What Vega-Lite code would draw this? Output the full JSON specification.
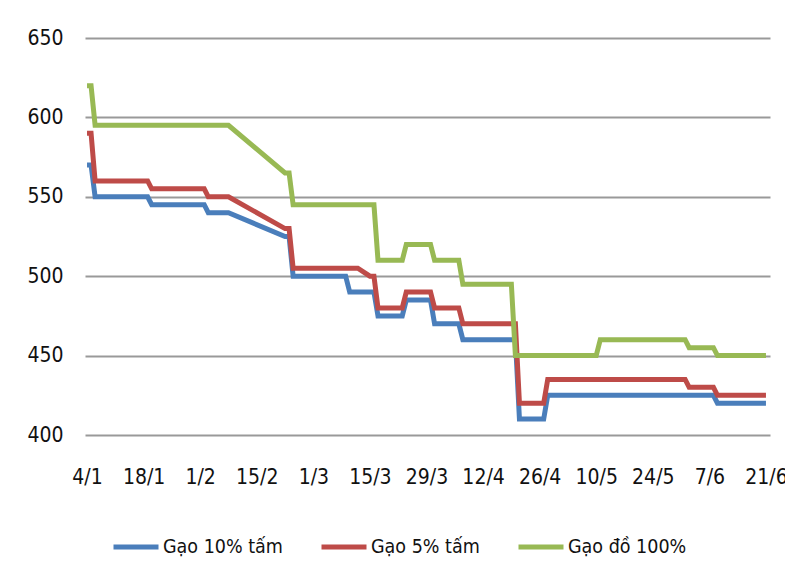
{
  "$schema": "https://vega.github.io/schema/vega-lite/v6.json",
  "width": 685,
  "height": 397,
  "autosize": {"type": "none"},
  "padding": {"left": 85, "top": 38, "right": 15, "bottom": 148},
  "background": "white",
  "config": {"view": {"stroke": null}, "font": "DejaVu Sans Condensed, Liberation Sans, sans-serif"},
  "data": {"values": [
    {"date": "2010-01-04", "series": "Gạo 10% tấm", "price": 570},
    {"date": "2010-01-05", "series": "Gạo 10% tấm", "price": 570},
    {"date": "2010-01-06", "series": "Gạo 10% tấm", "price": 550},
    {"date": "2010-01-19", "series": "Gạo 10% tấm", "price": 550},
    {"date": "2010-01-20", "series": "Gạo 10% tấm", "price": 545},
    {"date": "2010-02-02", "series": "Gạo 10% tấm", "price": 545},
    {"date": "2010-02-03", "series": "Gạo 10% tấm", "price": 540},
    {"date": "2010-02-08", "series": "Gạo 10% tấm", "price": 540},
    {"date": "2010-02-22", "series": "Gạo 10% tấm", "price": 525},
    {"date": "2010-02-23", "series": "Gạo 10% tấm", "price": 525},
    {"date": "2010-02-24", "series": "Gạo 10% tấm", "price": 500},
    {"date": "2010-03-09", "series": "Gạo 10% tấm", "price": 500},
    {"date": "2010-03-10", "series": "Gạo 10% tấm", "price": 490},
    {"date": "2010-03-16", "series": "Gạo 10% tấm", "price": 490},
    {"date": "2010-03-17", "series": "Gạo 10% tấm", "price": 475},
    {"date": "2010-03-23", "series": "Gạo 10% tấm", "price": 475},
    {"date": "2010-03-24", "series": "Gạo 10% tấm", "price": 485},
    {"date": "2010-03-30", "series": "Gạo 10% tấm", "price": 485},
    {"date": "2010-03-31", "series": "Gạo 10% tấm", "price": 470},
    {"date": "2010-04-06", "series": "Gạo 10% tấm", "price": 470},
    {"date": "2010-04-07", "series": "Gạo 10% tấm", "price": 460},
    {"date": "2010-04-20", "series": "Gạo 10% tấm", "price": 460},
    {"date": "2010-04-21", "series": "Gạo 10% tấm", "price": 410},
    {"date": "2010-04-27", "series": "Gạo 10% tấm", "price": 410},
    {"date": "2010-04-28", "series": "Gạo 10% tấm", "price": 425},
    {"date": "2010-06-08", "series": "Gạo 10% tấm", "price": 425},
    {"date": "2010-06-09", "series": "Gạo 10% tấm", "price": 420},
    {"date": "2010-06-21", "series": "Gạo 10% tấm", "price": 420},
    {"date": "2010-01-04", "series": "Gạo 5% tấm", "price": 590},
    {"date": "2010-01-05", "series": "Gạo 5% tấm", "price": 590},
    {"date": "2010-01-06", "series": "Gạo 5% tấm", "price": 560},
    {"date": "2010-01-19", "series": "Gạo 5% tấm", "price": 560},
    {"date": "2010-01-20", "series": "Gạo 5% tấm", "price": 555},
    {"date": "2010-02-02", "series": "Gạo 5% tấm", "price": 555},
    {"date": "2010-02-03", "series": "Gạo 5% tấm", "price": 550},
    {"date": "2010-02-08", "series": "Gạo 5% tấm", "price": 550},
    {"date": "2010-02-22", "series": "Gạo 5% tấm", "price": 530},
    {"date": "2010-02-23", "series": "Gạo 5% tấm", "price": 530},
    {"date": "2010-02-24", "series": "Gạo 5% tấm", "price": 505},
    {"date": "2010-03-12", "series": "Gạo 5% tấm", "price": 505},
    {"date": "2010-03-15", "series": "Gạo 5% tấm", "price": 500},
    {"date": "2010-03-16", "series": "Gạo 5% tấm", "price": 500},
    {"date": "2010-03-17", "series": "Gạo 5% tấm", "price": 480},
    {"date": "2010-03-23", "series": "Gạo 5% tấm", "price": 480},
    {"date": "2010-03-24", "series": "Gạo 5% tấm", "price": 490},
    {"date": "2010-03-30", "series": "Gạo 5% tấm", "price": 490},
    {"date": "2010-03-31", "series": "Gạo 5% tấm", "price": 480},
    {"date": "2010-04-06", "series": "Gạo 5% tấm", "price": 480},
    {"date": "2010-04-07", "series": "Gạo 5% tấm", "price": 470},
    {"date": "2010-04-20", "series": "Gạo 5% tấm", "price": 470},
    {"date": "2010-04-21", "series": "Gạo 5% tấm", "price": 420},
    {"date": "2010-04-27", "series": "Gạo 5% tấm", "price": 420},
    {"date": "2010-04-28", "series": "Gạo 5% tấm", "price": 435},
    {"date": "2010-06-01", "series": "Gạo 5% tấm", "price": 435},
    {"date": "2010-06-02", "series": "Gạo 5% tấm", "price": 430},
    {"date": "2010-06-08", "series": "Gạo 5% tấm", "price": 430},
    {"date": "2010-06-09", "series": "Gạo 5% tấm", "price": 425},
    {"date": "2010-06-21", "series": "Gạo 5% tấm", "price": 425},
    {"date": "2010-01-04", "series": "Gạo đồ 100%", "price": 620},
    {"date": "2010-01-05", "series": "Gạo đồ 100%", "price": 620},
    {"date": "2010-01-06", "series": "Gạo đồ 100%", "price": 595},
    {"date": "2010-02-08", "series": "Gạo đồ 100%", "price": 595},
    {"date": "2010-02-22", "series": "Gạo đồ 100%", "price": 565},
    {"date": "2010-02-23", "series": "Gạo đồ 100%", "price": 565},
    {"date": "2010-02-24", "series": "Gạo đồ 100%", "price": 545},
    {"date": "2010-03-16", "series": "Gạo đồ 100%", "price": 545},
    {"date": "2010-03-17", "series": "Gạo đồ 100%", "price": 510},
    {"date": "2010-03-23", "series": "Gạo đồ 100%", "price": 510},
    {"date": "2010-03-24", "series": "Gạo đồ 100%", "price": 520},
    {"date": "2010-03-30", "series": "Gạo đồ 100%", "price": 520},
    {"date": "2010-03-31", "series": "Gạo đồ 100%", "price": 510},
    {"date": "2010-04-06", "series": "Gạo đồ 100%", "price": 510},
    {"date": "2010-04-07", "series": "Gạo đồ 100%", "price": 495},
    {"date": "2010-04-19", "series": "Gạo đồ 100%", "price": 495},
    {"date": "2010-04-20", "series": "Gạo đồ 100%", "price": 450},
    {"date": "2010-05-10", "series": "Gạo đồ 100%", "price": 450},
    {"date": "2010-05-11", "series": "Gạo đồ 100%", "price": 460},
    {"date": "2010-06-01", "series": "Gạo đồ 100%", "price": 460},
    {"date": "2010-06-02", "series": "Gạo đồ 100%", "price": 455},
    {"date": "2010-06-08", "series": "Gạo đồ 100%", "price": 455},
    {"date": "2010-06-09", "series": "Gạo đồ 100%", "price": 450},
    {"date": "2010-06-21", "series": "Gạo đồ 100%", "price": 450}
  ]},
  "mark": {"type": "line", "strokeWidth": 5},
  "encoding": {
    "x": {
      "field": "date", "type": "temporal",
      "scale": {"type": "utc", "domain": [
        {"year": 2010, "month": 1, "date": 3, "hours": 12, "utc": true},
        {"year": 2010, "month": 6, "date": 22, "hours": 0, "utc": true}
      ]},
      "axis": {
        "title": null,
        "labelExpr": "utcFormat(datum.value, '%-d/%-m')",
        "values": [
          {"year": 2010, "month": 1, "date": 4, "utc": true},
          {"year": 2010, "month": 1, "date": 18, "utc": true},
          {"year": 2010, "month": 2, "date": 1, "utc": true},
          {"year": 2010, "month": 2, "date": 15, "utc": true},
          {"year": 2010, "month": 3, "date": 1, "utc": true},
          {"year": 2010, "month": 3, "date": 15, "utc": true},
          {"year": 2010, "month": 3, "date": 29, "utc": true},
          {"year": 2010, "month": 4, "date": 12, "utc": true},
          {"year": 2010, "month": 4, "date": 26, "utc": true},
          {"year": 2010, "month": 5, "date": 10, "utc": true},
          {"year": 2010, "month": 5, "date": 24, "utc": true},
          {"year": 2010, "month": 6, "date": 7, "utc": true},
          {"year": 2010, "month": 6, "date": 21, "utc": true}
        ],
        "grid": false, "domain": false, "ticks": false, "tickSize": 0,
        "labelPadding": 31, "labelFontSize": 21, "labelColor": "#111111",
        "labelOverlap": false, "labelFlush": false, "labelBound": false
      }
    },
    "y": {
      "field": "price", "type": "quantitative",
      "scale": {"domain": [400, 650], "nice": false, "zero": false},
      "axis": {
        "title": null, "values": [400, 450, 500, 550, 600, 650],
        "grid": true, "gridColor": "#999999", "gridWidth": 2,
        "domain": false, "ticks": false, "tickSize": 0,
        "labelPadding": 22, "labelFontSize": 21, "labelColor": "#111111"
      }
    },
    "color": {
      "field": "series", "type": "nominal",
      "scale": {
        "domain": ["Gạo 10% tấm", "Gạo 5% tấm", "Gạo đồ 100%"],
        "range": ["#4A7EBB", "#BE4B48", "#98B954"]
      },
      "legend": {
        "title": null, "orient": "none", "direction": "horizontal",
        "legendX": 26, "legendY": 484,
        "symbolType": "stroke", "symbolSize": 2025, "symbolStrokeWidth": 5,
        "labelFontSize": 19.5, "labelOffset": 2, "columnPadding": 28,
        "labelColor": "#111111"
      }
    }
  }
}
